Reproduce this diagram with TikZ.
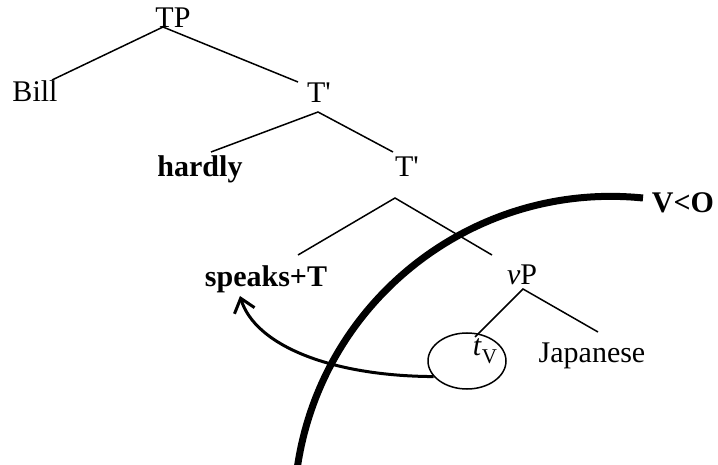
\documentclass[tikz,border=0pt]{standalone}
\usepackage{fontspec}
\setmainfont{Liberation Serif}
\usetikzlibrary{shapes.geometric,arrows.meta}
\begin{document}
\begin{tikzpicture}[x=1pt,y=-1pt,
  lbl/.style={inner sep=0pt, anchor=base, font=\fontsize{30}{36}\selectfont},
  bl/.style={inner sep=0pt, anchor=base, font=\fontsize{30}{36}\selectfont\bfseries},
  branch/.style={line width=1.5pt},
  boundary/.style={line width=7pt},
  move/.style={line width=3pt, -{Straight Barb[length=13pt,width=21pt,line width=3pt]}}]
\useasboundingbox (0,0) rectangle (718,465);
% labels
\node[lbl] (TP) at (173,28) {TP};
\node[lbl] (Bill) at (35,102) {Bill};
\node[lbl] (T1) at (319,103) {T\textquotesingle};
\node[bl] (hardly) at (200,177) {hardly};
\node[lbl] (T2) at (407,177) {T\textquotesingle};
\node[bl] (speaks) at (266,287) {speaks+T};
\node[lbl] (vP) at (522,285) {\textit{v}P};
\node[lbl] (tV) at (485,355) {\textit{t}\raisebox{-9pt}{\fontsize{21}{21}\selectfont V}};
\node[draw, ellipse, line width=1.5pt, minimum width=78pt, minimum height=56pt, inner sep=0pt] (circ) at (467,361) {};
\node[lbl] (Jap) at (592,362) {Japanese};
\node[bl] (VO) at (683,213) {V<O};
% branch end points
\coordinate (tpA) at (163,27);
\coordinate (billE) at (52,80);
\coordinate (t1E) at (298,82);
\coordinate (t1A) at (318,112);
\coordinate (hardE) at (211,152);
\coordinate (t2E) at (393,152);
\coordinate (t2A) at (395,198);
\coordinate (spE) at (298,255);
\coordinate (vpE) at (492,255);
\coordinate (vpA) at (523,289);
\coordinate (tvE) at (475,337);
\coordinate (japE) at (598,332);
\draw[branch] (billE) -- (tpA) -- (t1E);
\draw[branch] (hardE) -- (t1A) -- (t2E);
\draw[branch] (spE) -- (t2A) -- (vpE);
\draw[branch] (tvE) -- (vpA) -- (japE);
% spell-out boundary
\coordinate (arcS) at (643,198);
\draw[boundary] (arcS) arc[start angle=-84.2, end angle=-171.3, radius=317];
% movement arrow
\coordinate (tip) at (240,296);
\draw[move] (circ.205) .. controls (330,376) and (255,345) .. (tip);
\end{tikzpicture}
\end{document}
